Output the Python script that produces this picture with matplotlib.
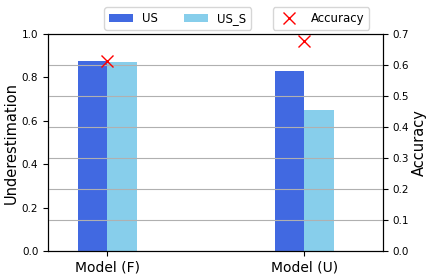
import matplotlib
matplotlib.use("Agg")
import matplotlib.pyplot as plt
import numpy as np

categories = ["Model (F)", "Model (U)"]
us = [0.876, 0.829]
us_s = [0.871, 0.650]
accuracy = [0.612, 0.678]

fig = plt.figure(figsize=(4.3, 2.79), dpi=100)
ax = fig.add_axes([48/430, 1-251/279, (383-48)/430, (251-34)/279])
x = np.arange(len(categories))
w = 0.15
b1 = ax.bar(x - w/2, us, w, color="#4169e1", label="US")
b2 = ax.bar(x + w/2, us_s, w, color="#87ceeb", label="US_S")
ax.set_ylim(0, 1.0)
ax.set_xlim(-0.3, 1.4)
ax.set_xticks(x)
ax.set_xticklabels(categories, fontsize=10)
ax.set_ylabel("Underestimation", fontsize=10.5, labelpad=2)
ax.tick_params(axis="y", labelsize=7.5)

ax2 = ax.twinx()
l1, = ax2.plot(x, accuracy, "x", color="red", markersize=8, label="Accuracy", linestyle="none")
ax2.set_ylim(0, 0.7)
ax2.set_ylabel("Accuracy", fontsize=10.5, labelpad=2)
ax2.tick_params(axis="y", labelsize=7.5)
ax2.grid(True, axis="y", color="#b0b0b0")

ax.legend(handles=[b1, b2], ncol=2, loc="lower center", bbox_to_anchor=(0.387, 1.02),
          fontsize=8.5, columnspacing=2.2, borderaxespad=0)
ax2.legend(handles=[l1], loc="lower center", bbox_to_anchor=(0.815, 1.02),
           fontsize=8.5, borderaxespad=0)

fig.savefig("out.png", dpi=100)
